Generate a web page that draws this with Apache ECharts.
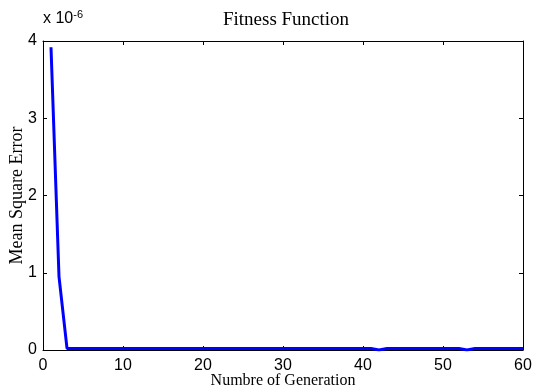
<!DOCTYPE html>
<html>
<head>
<meta charset="utf-8">
<script src="https://cdn.jsdelivr.net/npm/echarts@6/dist/echarts.min.js"></script>
<style>html,body{margin:0;padding:0;background:#fff}#c{width:533px;height:390px}</style>
</head>
<body>
<div id="c"></div>
<script>
var generations = [1,2,3,4,5,6,7,8,9,10,11,12,13,14,15,16,17,18,19,20,21,22,23,24,25,26,27,28,29,30,31,32,33,34,35,36,37,38,39,40,41,42,43,44,45,46,47,48,49,50,51,52,53,54,55,56,57,58,59,60];
var mseValues = [3.92e-6,0.95e-6,0.02e-6,0.02e-6,0.02e-6,0.02e-6,0.02e-6,0.02e-6,0.02e-6,0.02e-6,
  0.02e-6,0.02e-6,0.02e-6,0.02e-6,0.02e-6,0.02e-6,0.02e-6,0.02e-6,0.02e-6,0.02e-6,
  0.02e-6,0.02e-6,0.02e-6,0.02e-6,0.02e-6,0.02e-6,0.02e-6,0.02e-6,0.02e-6,0.02e-6,
  0.02e-6,0.02e-6,0.02e-6,0.02e-6,0.02e-6,0.02e-6,0.02e-6,0.02e-6,0.02e-6,0.02e-6,
  0.02e-6,0.0,0.02e-6,0.02e-6,0.02e-6,0.02e-6,0.02e-6,0.02e-6,0.02e-6,0.02e-6,
  0.02e-6,0.02e-6,0.0,0.02e-6,0.02e-6,0.02e-6,0.02e-6,0.02e-6,0.02e-6,0.02e-6];
var xTicks = [0,10,20,30,40,50,60];
var yTicks = [0,1,2,3,4];
var titleText = 'Fitness Function';
var xLabel = 'Numbre of Generation';
var yLabel = 'Mean Square Error';

var chart = echarts.init(document.getElementById('c'), null, {renderer:'canvas'});
var pts = generations.map(function(g,i){return [g, mseValues[i]];});
function axisCommon(){
  return {
    axisLine:{show:true,onZero:false,lineStyle:{color:'#000',width:1}},
    axisTick:{show:true,inside:true,length:4,lineStyle:{color:'#000'}},
    splitLine:{show:false}
  };
}
chart.setOption({
  animation:false,
  title:{text:titleText,left:281,top:6,textAlign:'center',
    textStyle:{fontFamily:'Liberation Serif',fontWeight:'normal',fontSize:19,color:'#000'}},
  grid:{left:43,right:10,top:41,bottom:40,containLabel:false,outerBoundsMode:'none'},
  xAxis:[
    Object.assign({type:'value',min:xTicks[0],max:xTicks[xTicks.length-1],interval:10,position:'bottom',
      axisLabel:{color:'#000',fontFamily:'Liberation Sans',fontSize:16,margin:8},
      name:xLabel,nameLocation:'middle',nameGap:23,nameMoveOverlap:false,
      nameTextStyle:{fontFamily:'Liberation Serif',fontSize:16,color:'#000'}},axisCommon()),
    Object.assign({type:'value',min:0,max:60,interval:10,position:'top',axisLabel:{show:false}},axisCommon())
  ],
  yAxis:[
    Object.assign({type:'value',min:yTicks[0]*1e-6,max:yTicks[yTicks.length-1]*1e-6,interval:1e-6,position:'left',
      axisLabel:{color:'#000',fontFamily:'Liberation Sans',fontSize:16,margin:6,
        formatter:function(v){return String(Math.round(v*1e6));}},
      name:yLabel,nameLocation:'middle',nameGap:17,nameRotate:90,nameMoveOverlap:false,
      nameTextStyle:{fontFamily:'Liberation Serif',fontSize:18,color:'#000'}},axisCommon()),
    Object.assign({type:'value',min:0,max:4e-6,interval:1e-6,position:'right',axisLabel:{show:false}},axisCommon())
  ],
  graphic:[{type:'text',left:43,top:9,style:{
    text:'x 10{s|-6}',rich:{s:{fontSize:11,verticalAlign:'top',padding:[0,0,9,0],fontFamily:'Liberation Sans',fill:'#000'}},
    fontFamily:'Liberation Sans',fontSize:16,fill:'#000'}}],
  series:[{type:'line',data:pts,xAxisIndex:0,yAxisIndex:0,showSymbol:false,
    lineStyle:{color:'#0000ff',width:3},itemStyle:{color:'#0000ff'}}]
});
</script>
</body>
</html>
